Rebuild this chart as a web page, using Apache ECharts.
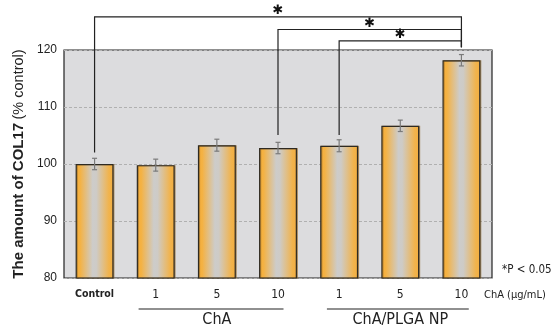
<!DOCTYPE html>
<html>
<head>
<meta charset="utf-8">
<script src="https://cdn.jsdelivr.net/npm/echarts@6/dist/echarts.min.js"></script>
<style>
  html, body { margin: 0; padding: 0; background: #ffffff; }
  #chart { width: 556px; height: 331px; }
</style>
</head>
<body>
<div id="chart"></div>
<script>
// Bar categories and measured means (% of control) with error bars
const categories = ['Control', '1', '5', '10', '1', '5', '10'];
const meanValues = [100.0, 99.8, 103.3, 102.8, 103.2, 106.7, 118.2];
const errValues = [1.0, 1.05, 1.05, 1.0, 1.05, 1.0, 1.0];

// Y axis range and ticks
const yMin = 80;
const yMax = 120;
const yStep = 10;

// Significance brackets: category indices, bracket height and end heights
const bracketFrom = [0, 3, 4];
const bracketTo = [6, 6, 6];
const bracketLevel = [125.8, 123.6, 121.6];
const bracketFromEnd = [102.0, 105.1, 105.1];
const bracketToEnd = [120.5, 120.5, 120.5];

// Treatment groups under the axis (positions in category units)
const groupNames = ['ChA', 'ChA/PLGA NP'];
const groupCenter = [2, 5];
const groupLineFrom = [0.72, 3.80];
const groupLineTo = [3.09, 6.12];

const narrowFont = "'DejaVu Sans Condensed', 'DejaVu Sans', sans-serif";

const chart = echarts.init(document.getElementById('chart'), null, { renderer: 'canvas' });

const barGradient = new echarts.graphic.LinearGradient(0, 0, 1, 0, [
  { offset: 0, color: '#f6ad36' },
  { offset: 0.12, color: '#f4b244' },
  { offset: 0.45, color: '#cdccca' },
  { offset: 0.55, color: '#cecbc6' },
  { offset: 0.88, color: '#f1b34c' },
  { offset: 1, color: '#f3ae40' }
]);

const option = {
  animation: false,
  grid: {
    left: 64, right: 64, top: 50, bottom: 53,
    show: true,
    backgroundColor: '#dcdcde',
    borderColor: '#222222',
    borderWidth: 1.2
  },
  xAxis: {
    type: 'category',
    data: categories,
    axisLine: { show: false },
    axisTick: { show: false },
    axisLabel: {
      interval: 0,
      margin: 11,
      formatter: function (v, i) { return i === 0 ? '{c|' + v + '}' : '{n|' + v + '}'; },
      rich: {
        c: { fontFamily: narrowFont, fontSize: 10.5, fontWeight: 'bold', color: '#222' },
        n: { fontFamily: narrowFont, fontSize: 12, color: '#222' }
      }
    }
  },
  yAxis: {
    type: 'value',
    min: yMin, max: yMax, interval: yStep,
    axisLine: { show: false },
    axisTick: { show: false },
    axisLabel: { fontFamily: 'Liberation Sans, Arial, sans-serif', fontSize: 12, color: '#222', margin: 7 },
    splitLine: { lineStyle: { type: [3, 2], color: '#b0b0b0', width: 1 } },
    name: '{b|The amount of COL17} {r|(% control)}',
    nameLocation: 'middle',
    nameGap: 36,
    nameRotate: 90,
    nameTextStyle: {
      rich: {
        b: { fontFamily: 'Liberation Sans, Arial, sans-serif', fontSize: 15, fontWeight: 'bold', color: '#222' },
        r: { fontFamily: 'Liberation Sans, Arial, sans-serif', fontSize: 14.5, color: '#222' }
      }
    }
  },
  graphic: [
    { type: 'text', left: 502, top: 264, style: { text: '*P < 0.05', fontFamily: narrowFont, fontSize: 11.5, fill: '#222' } },
    { type: 'text', left: 484, top: 290, style: { text: 'ChA (μg/mL)', fontFamily: narrowFont, fontSize: 11, fill: '#222' } }
  ],
  series: [
    {
      type: 'bar',
      data: meanValues,
      barWidth: '62%',
      itemStyle: {
        color: barGradient,
        borderColor: '#2e2a22',
        borderWidth: 1.2,
        shadowColor: 'rgba(140,100,40,0.55)',
        shadowOffsetX: 1,
        shadowBlur: 0
      },
      z: 2
    },
    {
      // error bars
      type: 'custom',
      data: meanValues.map(function (v, i) { return [i, v, errValues[i]]; }),
      encode: { x: 0, y: 1 },
      z: 5,
      renderItem: function (params, api) {
        const i = api.value(0);
        const v = api.value(1);
        const e = api.value(2);
        const top = api.coord([i, v + e]);
        const bot = api.coord([i, v - e]);
        const cap = 2.5;
        const s = { stroke: '#7a7a7a', lineWidth: 1.2 };
        return {
          type: 'group',
          children: [
            { type: 'line', shape: { x1: top[0], y1: top[1], x2: bot[0], y2: bot[1] }, style: s },
            { type: 'line', shape: { x1: top[0] - cap, y1: top[1], x2: top[0] + cap, y2: top[1] }, style: s },
            { type: 'line', shape: { x1: bot[0] - cap, y1: bot[1], x2: bot[0] + cap, y2: bot[1] }, style: s }
          ]
        };
      }
    },
    {
      // significance brackets above the plot
      type: 'custom',
      clip: false,
      silent: true,
      data: bracketFrom.map(function (f, i) { return [f, bracketLevel[i]]; }),
      encode: { x: 0, y: 1 },
      z: 6,
      renderItem: function (params, api) {
        const i = params.dataIndex;
        const a = api.coord([bracketFrom[i], bracketLevel[i]]);
        const b = api.coord([bracketTo[i], bracketLevel[i]]);
        const aEnd = api.coord([bracketFrom[i], bracketFromEnd[i]]);
        const bEnd = api.coord([bracketTo[i], bracketToEnd[i]]);
        return {
          type: 'group',
          children: [
            {
              type: 'polyline',
              shape: { points: [[a[0], aEnd[1]], [a[0], a[1]], [b[0], b[1]], [b[0], bEnd[1]]] },
              style: { stroke: '#222', lineWidth: 1.2, fill: null }
            },
            {
              type: 'text',
              x: (a[0] + b[0]) / 2,
              y: a[1] - 6,
              style: { text: '✱', fontFamily: 'DejaVu Sans', fontSize: 13, fontWeight: 'bold', fill: '#111', align: 'center', verticalAlign: 'middle' }
            }
          ]
        };
      }
    },
    {
      // treatment group labels below the category labels
      type: 'custom',
      clip: false,
      silent: true,
      data: groupCenter.map(function (c) { return [c, yMin]; }),
      encode: { x: 0, y: 1 },
      z: 6,
      renderItem: function (params, api) {
        const i = params.dataIndex;
        const band = api.size([1, 0])[0];
        const base = api.coord([0, yMin]);
        const c = api.coord([groupCenter[i], yMin]);
        const x1 = base[0] + groupLineFrom[i] * band;
        const x2 = base[0] + groupLineTo[i] * band;
        const ly = c[1] + 31;
        return {
          type: 'group',
          children: [
            { type: 'line', shape: { x1: x1, y1: ly, x2: x2, y2: ly }, style: { stroke: '#222', lineWidth: 1.2 } },
            {
              type: 'text', x: c[0], y: ly + 11,
              style: { text: groupNames[i], fontFamily: narrowFont, fontSize: 16, fill: '#222', align: 'center', verticalAlign: 'middle' }
            }
          ]
        };
      }
    }
  ]
};

chart.setOption(option);
</script>
</body>
</html>
